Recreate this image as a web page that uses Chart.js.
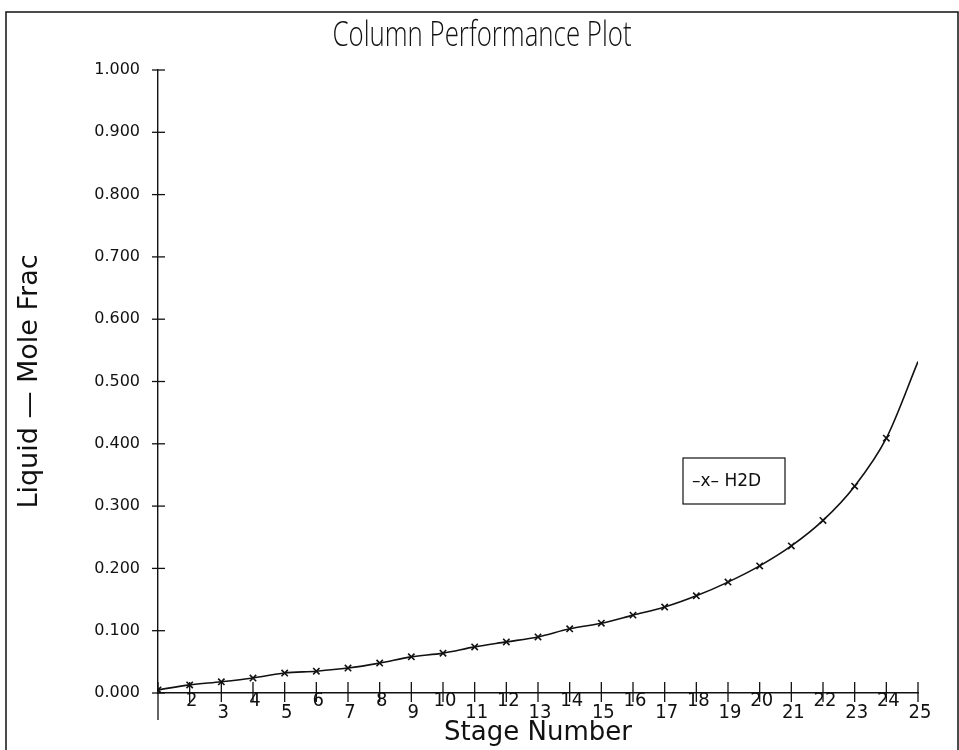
<!DOCTYPE html>
<html>
<head>
<meta charset="utf-8">
<title>Column Performance Plot</title>
<script src="https://cdn.jsdelivr.net/npm/chart.js@4/dist/chart.umd.min.js"></script>
<style>
  html, body { margin: 0; padding: 0; background: #fff; }
  #wrap { width: 959px; height: 750px; position: relative; }
</style>
</head>
<body>
<div id="wrap"><canvas id="chart"></canvas></div>
<script>
// data
const stages = [1, 2, 3, 4, 5, 6, 7, 8, 9, 10, 11, 12, 13, 14, 15, 16, 17, 18, 19, 20, 21, 22, 23, 24, 25];
const h2d = [0.005, 0.013, 0.018, 0.024, 0.032, 0.035, 0.040, 0.048, 0.058, 0.064, 0.074, 0.082, 0.090,
             0.103, 0.112, 0.125, 0.138, 0.156, 0.178, 0.204, 0.236, 0.277, 0.332, 0.409, 0.532];
const seriesName = "H2D";
const chartTitle = "Column Performance Plot";
const yTicks = [0, 0.1, 0.2, 0.3, 0.4, 0.5, 0.6, 0.7, 0.8, 0.9, 1.0];

const NARROW = "'Liberation Sans Narrow', 'DejaVu Sans Condensed', 'Open Sans', sans-serif";
const WIDE = "'DejaVu Sans', 'Open Sans', sans-serif";
const INK = "#111";

// title, axis ticks that cross the axis line, staggered x labels, frame and legend box
const plotterBits = {
  id: "plotterBits",
  afterDraw(chart) {
    const c = chart.ctx;
    const xs = chart.scales.x, ys = chart.scales.y;
    const x0 = xs.getPixelForValue(stages[0]);
    const y0 = ys.getPixelForValue(0);
    c.save();
    c.strokeStyle = INK;
    c.fillStyle = INK;
    c.lineWidth = 1.3;

    // title, squeezed a bit like the plotter lettering
    c.save();
    c.font = "300 34px 'Open Sans', 'DejaVu Sans', sans-serif";
    c.textAlign = "center";
    c.textBaseline = "middle";
    c.translate(482, 36);
    c.scale(0.76, 1);
    c.fillText(chartTitle, 0, 0);
    c.restore();

    // y ticks
    yTicks.forEach(v => {
      const py = ys.getPixelForValue(v);
      c.beginPath(); c.moveTo(x0 - 6, py); c.lineTo(x0 + 7, py); c.stroke();
    });

    // x ticks + alternating labels
    c.font = "20px " + NARROW;
    c.textAlign = "center";
    c.textBaseline = "middle";
    stages.forEach(s => {
      const px = xs.getPixelForValue(s);
      const down = s === 1 ? 27 : 9;
      c.beginPath(); c.moveTo(px, y0 - 11); c.lineTo(px, y0 + down); c.stroke();
      if (s === 1) return;
      const ly = (s % 2 === 0) ? y0 + 8 : y0 + 20;
      c.fillText(String(s), px + 2, ly);
    });

    // outer frame
    c.lineWidth = 1.5;
    c.beginPath();
    c.moveTo(6, 750); c.lineTo(6, 12); c.lineTo(958, 12); c.lineTo(958, 750);
    c.stroke();

    // legend box
    const lx = 683, ly = 458, lw = 102, lh = 46;
    c.lineWidth = 1.2;
    c.strokeRect(lx, ly, lw, lh);
    c.font = "17px " + WIDE;
    c.textAlign = "left";
    c.fillText("\u2013x\u2013 " + chart.data.datasets[0].label, lx + 9, ly + lh / 2 + 1);
    c.restore();
  }
};

new Chart(document.getElementById("chart"), {
  type: "line",
  data: {
    datasets: [{
      label: seriesName,
      data: stages.map((s, i) => ({ x: s, y: h2d[i] })),
      borderColor: INK,
      backgroundColor: INK,
      borderWidth: 1.6,
      tension: 0.3,
      cubicInterpolationMode: "monotone",
      pointStyle: "crossRot",
      pointRadius: ctx => ctx.dataIndex === stages.length - 1 ? 0 : 4.5,
      pointBorderWidth: 1.6,
      pointBorderColor: INK
    }]
  },
  options: {
    responsive: true,
    maintainAspectRatio: false,
    animation: false,
    layout: { padding: { left: 0, right: 41, top: 70, bottom: 0 } },
    plugins: {
      legend: { display: false },
      tooltip: { enabled: false },
      title: { display: false }
    },
    scales: {
      x: {
        type: "linear",
        min: 1,
        max: 25,
        border: { display: true, color: INK, width: 1.4 },
        grid: { display: false, drawTicks: false },
        ticks: { display: false },
        title: {
          display: true,
          text: "Stage Number",
          color: INK,
          font: { family: WIDE, size: 26, weight: "normal" },
          padding: { top: 0, bottom: 1 }
        },
        afterFit: s => { s.height = 57; }
      },
      y: {
        min: 0,
        max: 1,
        afterBuildTicks: s => { s.ticks = yTicks.map(v => ({ value: v })); },
        border: { display: true, color: INK, width: 1.4 },
        grid: { display: false, drawTicks: false },
        ticks: {
          color: INK,
          padding: 18,
          font: { family: WIDE, size: 16 },
          callback: v => v.toFixed(3)
        },
        title: {
          display: true,
          text: "Liquid \u2014 Mole Frac",
          color: INK,
          font: { family: WIDE, size: 27, weight: "normal" },
          padding: { top: 14, bottom: 0 }
        },
        afterFit: s => { s.width = 158; }
      }
    }
  },
  plugins: [plotterBits]
});
</script>
</body>
</html>
